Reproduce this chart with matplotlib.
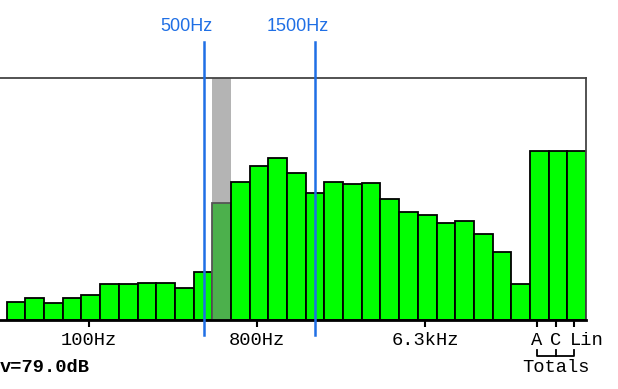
import matplotlib.pyplot as plt
import matplotlib.transforms as mtransforms
import numpy as np

# 1/3-octave band levels (40Hz .. 20kHz), then A / C / Lin totals
BANDS = ['40', '50', '63', '80', '100', '125', '160', '200', '250', '315',
         '400', '500', '630', '800', '1k', '1.25k', '1.6k', '2k', '2.5k',
         '3.15k', '4k', '5k', '6.3k', '8k', '10k', '12.5k', '16k', '20k']
LEVELS = [7.6, 9.2, 6.9, 9.2, 10.3, 14.8, 14.8, 15.3, 15.3, 13.1,
          19.8, 48.2, 57.1, 63.8, 67.1, 60.9, 52.4, 57.1, 56.2, 56.6,
          50.0, 44.5, 43.4, 40.0, 41.0, 35.7, 28.0, 14.8]
TOTALS = ['A', 'C', 'Lin']
TOTAL_LEVELS = [69.7, 69.7, 69.7]
SELECTED = '500'
TICK_BANDS = {'100': '100Hz', '800': '800Hz', '6.3k': '6.3kHz'}
MARKERS = [(10.56, '500Hz'), (16.5, '1500Hz')]

GREEN = '#00ff00'
BLUE = '#1f6fe5'
mono = 'Liberation Mono'

fig = plt.figure(figsize=(6.18, 3.89), dpi=100)
ax = fig.add_axes([0.0, 69 / 389, 586 / 618, 242 / 389])

n = len(BANDS)
x = np.arange(n)
sel = BANDS.index(SELECTED)

# highlight column behind the selected band
ax.bar(sel, 100, width=1, align='edge', color='#b4b4b4', linewidth=0, zorder=1)

colors = [GREEN] * n
edges = ['black'] * n
colors[sel] = '#4cb04c'
edges[sel] = '#555555'
ax.bar(x, LEVELS, width=1, align='edge', color=colors, edgecolor=edges,
       linewidth=1.3, zorder=2)

xt = np.arange(len(TOTALS)) + n
ax.bar(xt, TOTAL_LEVELS, width=1, align='edge', color=GREEN,
       edgecolor='black', linewidth=1.3, zorder=2)

ax.set_xlim(-0.36, n + len(TOTALS))
ax.set_ylim(0, 100)
ax.set_yticks([])

ax.spines['left'].set_visible(False)
ax.spines['top'].set_color('#444444')
ax.spines['top'].set_linewidth(1.3)
ax.spines['right'].set_color('#444444')
ax.spines['right'].set_linewidth(1.3)
ax.spines['bottom'].set_linewidth(2)
ax.spines['bottom'].set_zorder(3)

tpos = [BANDS.index(b) + 0.38 for b in TICK_BANDS] + list(xt + 0.38)
tlab = list(TICK_BANDS.values()) + TOTALS
ax.set_xticks(tpos)
ax.set_xticklabels(tlab, fontfamily=mono, fontsize=13.5)
ax.tick_params(axis='x', direction='out', length=5, width=1.5, pad=3.5)
# "Lin" starts at its tick instead of centring on it
lin = ax.get_xticklabels()[-1]
lin.set_horizontalalignment('left')
lin.set_transform(lin.get_transform() +
                  mtransforms.ScaledTranslation(-3 / 72, 0, fig.dpi_scale_trans))

# bracket under the totals
bx = xt + 0.38
ax.plot([bx[0], bx[0], bx[-1], bx[-1]], [-12.4, -14.8, -14.8, -12.4],
        color='black', lw=1.3, clip_on=False)
ax.plot([bx[1], bx[1]], [-12.4, -14.8], color='black', lw=1.3, clip_on=False)
ax.text(bx[1], -19.5, 'Totals', fontfamily=mono, fontsize=13.5,
        ha='center', va='center')

ax.text(-0.36, -19.5, 'v=79.0dB', fontfamily=mono, fontsize=13.5, weight='bold',
        ha='left', va='center')

for pos, lab in MARKERS:
    ax.axvline(pos, ymin=-0.06, ymax=1.15, color=BLUE, lw=1.8, clip_on=False,
               zorder=4)
    ax.text(pos - 0.95, 121.3, lab, color=BLUE, fontsize=13,
            family='Liberation Sans', ha='center', va='center')

fig.savefig('out.png', dpi=100)
